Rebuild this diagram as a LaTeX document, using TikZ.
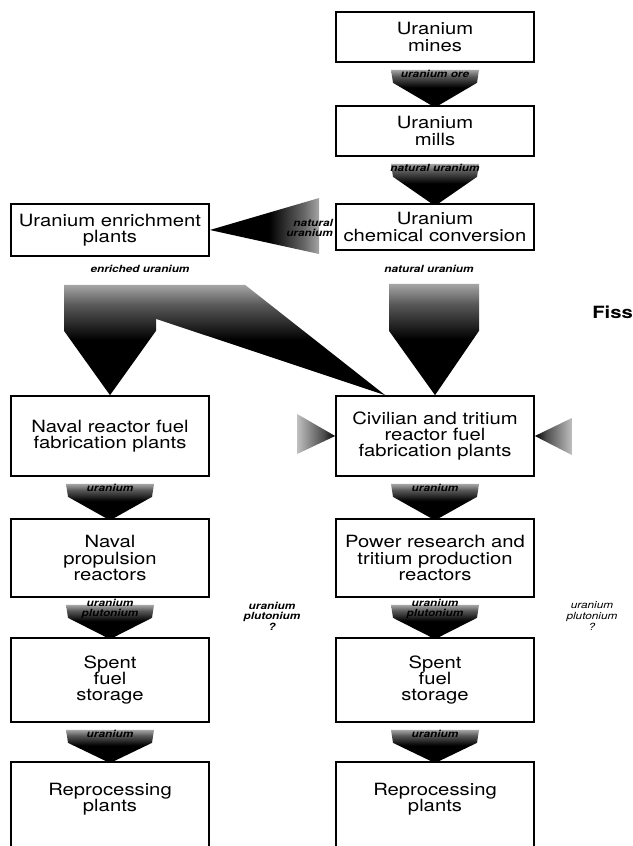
\documentclass[tikz,border=0pt]{standalone}
\usepackage{fontspec}
\setmainfont{TeX Gyre Heros}[FakeStretch=1.2]
\usetikzlibrary{calc}

\pgfdeclareverticalshading{funnel}{100bp}{color(0bp)=(black); color(25bp)=(black);
  color(50bp)=(black); color(66bp)=(black!65); color(75bp)=(black!35); color(100bp)=(black!35)}
\pgfdeclarehorizontalshading{hfunnel}{100bp}{color(0bp)=(black); color(25bp)=(black);
  color(52bp)=(black); color(68bp)=(black!60); color(75bp)=(black!35); color(100bp)=(black!35)}
\pgfdeclarehorizontalshading{sidefunnel}{100bp}{color(0bp)=(black); color(25bp)=(black);
  color(40bp)=(black!70); color(75bp)=(black!25); color(100bp)=(black!25)}

\begin{document}
\begin{tikzpicture}[x=0.025cm,y=-0.025cm,
    box/.style={draw,line width=1.2pt,minimum width=4.95cm,align=center,
      font=\fontsize{12}{11.5}\selectfont},
    flowlabel/.style={font=\fontsize{7}{7.5}\selectfont\bfseries\itshape,
      align=center,inner sep=0pt},
    sidelabel/.style={font=\fontsize{7}{7.5}\selectfont\itshape,
      align=center,inner sep=0pt}]

  \clip (0,0) rectangle (632,846);

  % Boxes, right column
  \node[box,minimum height=1.25cm] (mines) at (435,37)  {Uranium\\mines};
  \node[box,minimum height=1.25cm] (mills) at (435,131) {Uranium\\mills};
  \node[box,minimum height=1.15cm] (chem)  at (435,227) {Uranium\\chemical conversion};
  \node[box,minimum height=2cm]    (civfab)   at (435,436) {Civilian and tritium\\reactor fuel\\fabrication plants};
  \node[box,minimum height=1.95cm] (powrx)    at (435,558) {Power research and\\tritium production\\reactors};
  \node[box,minimum height=2.1cm]  (civspent) at (435,680) {Spent\\fuel\\storage};
  \node[box,minimum height=2.5cm]  (civrep)   at (435,812) {Reprocessing\\plants\\[9pt]\mbox{}};

  % Boxes, left column
  \node[box,minimum height=1.3cm]  (enrich)   at (110,230) {Uranium enrichment\\plants};
  \node[box,minimum height=2cm]    (navfab)   at (110,436) {Naval reactor fuel\\fabrication plants};
  \node[box,minimum height=1.95cm] (navrx)    at (110,558) {Naval\\propulsion\\reactors};
  \node[box,minimum height=2.1cm]  (navspent) at (110,680) {Spent\\fuel\\storage};
  \node[box,minimum height=2.5cm]  (navrep)   at (110,812) {Reprocessing\\plants\\[9pt]\mbox{}};

  % Small flows between boxes
  \foreach \a/\b/\l in {mines/mills/{uranium ore}, mills/chem/{natural uranium},
      navfab/navrx/uranium, civfab/powrx/uranium,
      navrx/navspent/{uranium\\plutonium}, powrx/civspent/{uranium\\plutonium},
      navspent/navrep/uranium, civspent/civrep/uranium}{
    \shade[shading=funnel] ($(\a.south)+(-44,7)$) -- ($(\a.south)+(44,7)$)
      -- ($(\a.south)+(42,20)$) -- ($(\b.north)+(4,0)$) -- ($(\b.north)+(-4,0)$)
      -- ($(\a.south)+(-42,20)$) -- cycle;
    \node[flowlabel] at ($(\a.south)+(0,11)$) {\l};
  }

  % Natural uranium to enrichment
  \coordinate (natin) at ($(chem.west)+(-16,0)$);
  \shade[shading=hfunnel] ($(natin)+(0,-29)$) -- (enrich.east) -- ($(natin)+(0,27)$) -- cycle;
  \node[flowlabel,anchor=east,align=right] (natlabel) at ($(chem.west)+(-2,1)$) {natural\\uranium};

  % Enriched uranium to both fabrication plants
  \shade[shading=funnel] ($(enrich.south)+(-46,28)$) -- ($(enrich.south)+(135,28)$)
    -- ($(civfab.north west)+(50,0)$) -- ($(enrich.south)+(46,62)$)
    -- ($(enrich.south)+(46,74)$) -- (navfab.north) -- ($(enrich.south)+(-46,74)$) -- cycle;
  \node[flowlabel] (enlabel) at ($(enrich.south)+(30,12)$) {enriched uranium};

  % Natural uranium to civilian fabrication
  \shade[shading=funnel] ($(chem.south)+(-46,33)$) -- ($(chem.south)+(44,33)$)
    -- ($(chem.south)+(44,80)$) -- (civfab.north) -- ($(chem.south)+(-46,80)$) -- cycle;
  \node[flowlabel] (nulabel) at ($(chem.south)+(-6,18)$) {natural uranium};

  % Side inputs to civilian fabrication
  \coordinate (civleft) at ($(civfab.west)+(-38,-2)$);
  \coordinate (civright) at ($(civfab.east)+(37,0)$);
  \shade[shading=sidefunnel,shading angle=180] ($(civleft)+(0,-20)$) -- (civfab.west)
    -- ($(civleft)+(0,20)$) -- cycle;
  \shade[shading=sidefunnel] ($(civright)+(0,-18)$) -- (civfab.east)
    -- ($(civright)+(0,19)$) -- cycle;

  % Side notes
  \node[sidelabel,font=\fontsize{7}{7.5}\selectfont\bfseries\itshape] (navq) at (272,616) {uranium\\plutonium\\?};
  \node[sidelabel] (civq) at (592,616) {uranium\\plutonium\\?};
  \node[font=\fontsize{12}{12}\selectfont\bfseries,anchor=west,inner sep=0pt] (fiss) at (592,312) {Fiss};

\end{tikzpicture}
\end{document}
